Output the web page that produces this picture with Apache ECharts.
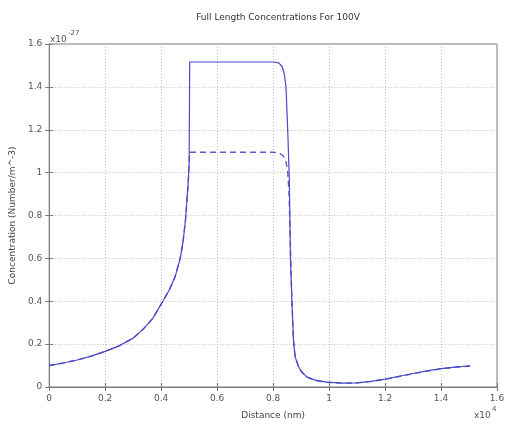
<!DOCTYPE html>
<html>
<head>
<meta charset="utf-8">
<script src="https://cdn.jsdelivr.net/npm/echarts@6/dist/echarts.min.js"></script>
<style>html,body{margin:0;padding:0;background:#fff}#c{width:510px;height:425px}</style>
</head>
<body>
<div id="c"></div>
<script>
const titleText = 'Full Length Concentrations For 100V';
const xName = 'Distance (nm)';
const yName = 'Concentration (Number/m^-3)';
const xTicks = [0, 0.2, 0.4, 0.6, 0.8, 1, 1.2, 1.4, 1.6];
const yTicks = [0, 0.2, 0.4, 0.6, 0.8, 1, 1.2, 1.4, 1.6];

const solidX = [0, 0.05, 0.1, 0.15, 0.2, 0.25, 0.3, 0.336, 0.37, 0.406, 0.43, 0.45, 0.468, 0.478, 0.487, 0.492, 0.497, 0.5, 0.502, 0.6, 0.7, 0.8, 0.82, 0.832, 0.84, 0.846, 0.852, 0.858, 0.862, 0.867, 0.873, 0.879, 0.889, 0.9, 0.92, 0.95, 0.99, 1.05, 1.1, 1.15, 1.2, 1.25, 1.3, 1.35, 1.4, 1.45, 1.504];
const solidY = [0.100, 0.112, 0.126, 0.144, 0.166, 0.192, 0.228, 0.270, 0.320, 0.400, 0.455, 0.515, 0.600, 0.675, 0.780, 0.870, 0.960, 1.050, 1.516, 1.516, 1.516, 1.516, 1.512, 1.495, 1.460, 1.400, 1.206, 0.968, 0.600, 0.410, 0.210, 0.140, 0.100, 0.075, 0.047, 0.032, 0.023, 0.018, 0.019, 0.026, 0.037, 0.050, 0.063, 0.075, 0.086, 0.093, 0.099];

const dashedX = [0, 0.05, 0.1, 0.15, 0.2, 0.25, 0.3, 0.336, 0.37, 0.406, 0.43, 0.45, 0.468, 0.478, 0.487, 0.492, 0.497, 0.5, 0.502, 0.6, 0.7, 0.8, 0.82, 0.835, 0.845, 0.852, 0.857, 0.861, 0.866, 0.872, 0.878, 0.888, 0.9, 0.92, 0.95, 0.99, 1.05, 1.1, 1.15, 1.2, 1.25, 1.3, 1.35, 1.4, 1.45, 1.504];
const dashedY = [0.100, 0.112, 0.126, 0.144, 0.166, 0.192, 0.228, 0.270, 0.320, 0.400, 0.455, 0.515, 0.600, 0.675, 0.780, 0.870, 0.960, 1.050, 1.095, 1.095, 1.095, 1.095, 1.092, 1.080, 1.055, 1.010, 0.900, 0.700, 0.450, 0.230, 0.150, 0.105, 0.072, 0.046, 0.031, 0.022, 0.018, 0.019, 0.026, 0.036, 0.049, 0.062, 0.074, 0.085, 0.092, 0.098];

const toPairs = (xs, ys) => xs.map((x, i) => [x, ys[i]]);
const lineColor = '#4a4ac4';
const font = 'DejaVu Sans';

const axisCommon = {
  min: 0, max: 1.6, interval: 0.2,
  axisLine: {show: true, lineStyle: {color: '#7a7a7a', width: 1}},
  axisTick: {show: true, inside: true, length: 4, lineStyle: {color: '#7a7a7a'}},
  splitLine: {show: false}
};

const chart = echarts.init(document.getElementById('c'), null, {renderer: 'canvas'});
chart.setOption({
  backgroundColor: '#fff',
  animation: false,
  title: {
    text: titleText, left: 273, top: 8, textAlign: 'center',
    textStyle: {fontFamily: font, fontSize: 9, fontWeight: 'normal', color: '#333'}
  },
  grid: {left: 49, right: 13, top: 44, bottom: 37, show: true, borderColor: '#7a7a7a', borderWidth: 1},
  xAxis: [
    Object.assign({}, axisCommon, {
      type: 'value', position: 'bottom',
      name: xName, nameLocation: 'middle', nameGap: 24,
      nameTextStyle: {fontFamily: font, fontSize: 9, color: '#444'},
      axisLabel: {fontFamily: font, fontSize: 9, color: '#555', margin: 7,
        formatter: v => xTicks.includes(+v.toFixed(1)) ? String(+v.toFixed(1)) : ''},
      splitLine: {show: true, lineStyle: {color: '#bdbdbd', type: [1, 2], width: 1}}
    }),
    Object.assign({}, axisCommon, {type: 'value', position: 'top', axisLabel: {show: false}})
  ],
  yAxis: [
    Object.assign({}, axisCommon, {
      type: 'value', position: 'left',
      name: yName, nameLocation: 'middle', nameGap: 25,
      nameTextStyle: {fontFamily: font, fontSize: 9, color: '#444'},
      axisLabel: {fontFamily: font, fontSize: 9, color: '#555', margin: 7,
        formatter: v => yTicks.includes(+v.toFixed(1)) ? String(+v.toFixed(1)) : ''},
      splitLine: {show: true, lineStyle: {color: '#bdbdbd', type: [1, 2], width: 1}}
    }),
    Object.assign({}, axisCommon, {type: 'value', position: 'right', axisLabel: {show: false}})
  ],
  graphic: [
    {type: 'text', left: 50, top: 35, style: {text: 'x10', fontFamily: font, fontSize: 9, fill: '#555'}},
    {type: 'text', left: 68, top: 30, style: {text: '-27', fontFamily: font, fontSize: 7, fill: '#555'}},
    {type: 'text', left: 474, top: 411, style: {text: 'x10', fontFamily: font, fontSize: 9, fill: '#555'}},
    {type: 'text', left: 492, top: 406, style: {text: '4', fontFamily: font, fontSize: 7, fill: '#555'}}
  ],
  series: [
    {type: 'line', name: 'solid', data: toPairs(solidX, solidY), showSymbol: false, smooth: false,
      lineStyle: {color: lineColor, width: 1.2}, z: 3},
    {type: 'line', name: 'dashed', data: toPairs(dashedX, dashedY), showSymbol: false, smooth: false,
      lineStyle: {color: '#5a5ac8', width: 1.4, type: [6, 4]}, z: 2}
  ]
});
</script>
</body>
</html>
